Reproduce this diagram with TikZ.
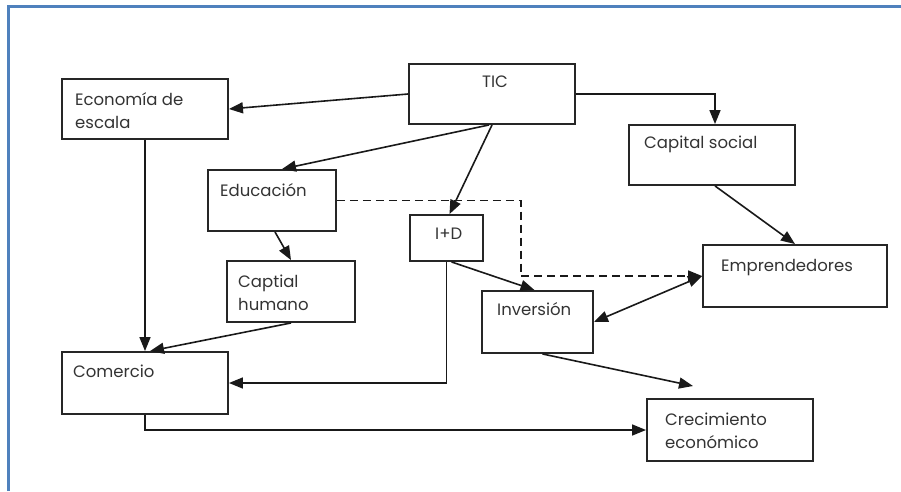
\documentclass[tikz,border=0pt]{standalone}
\usepackage{fontspec}
\setmainfont{Poppins}
\usetikzlibrary{arrows.meta,calc}

\definecolor{framecol}{HTML}{4F81BD}
\definecolor{txtcol}{HTML}{333333}

\tikzset{
  box/.style={draw=black!85, line width=1.9pt, rectangle, inner sep=0pt},
  lbl/.style={anchor=base west, inner sep=0pt, text=txtcol,
    font=\fontsize{16.5}{23}\selectfont},
  conn/.style={draw=black!90, line width=1.6pt,
    -{Triangle[length=14pt,width=11pt]}},
  bothconn/.style={conn, {Triangle[length=14pt,width=11pt]}-{Triangle[length=14pt,width=11pt]}},
  dashconn/.style={conn, dash pattern=on 8pt off 5pt},
}
\newcommand{\twolines}[2]{\begin{tabular}[t]{@{}l@{}}#1\\#2\end{tabular}}

\begin{document}
\begin{tikzpicture}[x=1pt,y=-1pt]
  \useasboundingbox (0,0) rectangle (901,491);

  % open frame on the left and top
  \draw[framecol, line width=2.2pt] (8.5,491) -- (8.5,6.5) -- (901,6.5);

  % boxes
  \node[box, minimum width=166pt, minimum height=60pt] (econ)   at (145,109)   {};
  \node[box, minimum width=166pt, minimum height=60pt] (tic)    at (492,94)    {};
  \node[box, minimum width=128pt, minimum height=61pt] (edu)    at (272,200.5) {};
  \node[box, minimum width=73pt,  minimum height=46pt] (id)     at (446.5,238) {};
  \node[box, minimum width=166pt, minimum height=60pt] (capsoc) at (712,155)   {};
  \node[box, minimum width=184pt, minimum height=62pt] (empr)   at (795,276)   {};
  \node[box, minimum width=128pt, minimum height=61pt] (caphum) at (291,291.5) {};
  \node[box, minimum width=111pt, minimum height=62pt] (inv)    at (537.5,322) {};
  \node[box, minimum width=166pt, minimum height=62pt] (com)    at (145,383)   {};
  \node[box, minimum width=166pt, minimum height=62pt] (crec)   at (730,430)   {};

  % labels
  \node[lbl] (econT)   at (75,105)  {\twolines{Economía de}{escala}};
  \node[lbl] (ticT)    at (482,87)  {TIC};
  \node[lbl] (eduT)    at (220,196) {Educación};
  \node[lbl] (idT)     at (435,239) {I+D};
  \node[lbl] (capsocT) at (644,148) {Capital social};
  \node[lbl] (emprT)   at (721,271) {Emprendedores};
  \node[lbl] (caphumT) at (238,287) {\twolines{Captial}{humano}};
  \node[lbl] (invT)    at (497,315) {Inversión};
  \node[lbl] (comT)    at (73,377)  {Comercio};
  \node[lbl] (crecT)   at (665,425) {\twolines{Crecimiento}{económico}};

  % free end of the arrow towards growth
  \coordinate (crecin) at (693,386);

  % connectors
  \draw[conn] (tic.west) -- (econ.east);
  \draw[conn] ($(tic.south)+(-3,0)$) -- ($(edu.north)+(10,0)$);
  \draw[conn] (tic.south) -- ($(id.north)+(3,0)$);
  \draw[conn] (tic.east) -| ($(capsoc.north)+(3,0)$);
  \draw[conn] ($(capsoc.south)+(3,0)$) -- (empr.north);
  \draw[conn] (econ.south) -- (com.north);
  \draw[conn] ($(edu.south)+(3,0)$) -- (caphum.north);
  \draw[conn] (caphum.south) -- ($(com.north)+(5,0)$);
  \draw[conn] (id.south) |- (com.east);
  \draw[conn] ($(id.south)+(5,0)$) -- ($(inv.north)+(-3,0)$);
  \draw[dashconn] (edu.east) -- ++(184,0) |- (empr.west);
  \draw[bothconn] (inv.east) -- (empr.west);
  \draw[conn] ($(inv.south)+(5,0)$) -- (crecin);
  \draw[conn] (com.south) |- (crec.west);
\end{tikzpicture}
\end{document}
